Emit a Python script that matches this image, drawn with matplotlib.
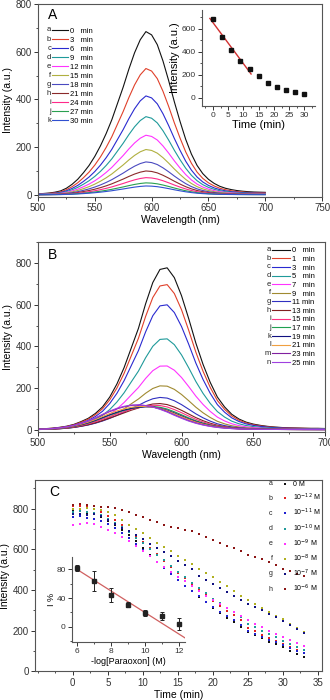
import numpy as np
import matplotlib
matplotlib.use("Agg")
import matplotlib.pyplot as plt
from matplotlib.ticker import AutoMinorLocator

plt.rcParams['font.family'] = ['Liberation Sans', 'DejaVu Sans']

# ---------------- data ----------------
wl = np.arange(500, 705, 5)

profile_a = [0.006, 0.008, 0.011, 0.016, 0.024, 0.04, 0.064, 0.095, 0.135, 0.18,
             0.235, 0.3, 0.375, 0.46, 0.56, 0.66, 0.77, 0.87, 0.95, 1.0,
             0.98, 0.92, 0.82, 0.7, 0.57, 0.45, 0.34, 0.25, 0.18, 0.13,
             0.095, 0.07, 0.052, 0.04, 0.032, 0.026, 0.022, 0.019, 0.017, 0.016, 0.015]
peaks_a = [685, 530, 415, 328, 250, 190, 138, 100, 72, 50, 37]
letters_a = list("abcdefghijk")
labels_a = ["0   min", "3   min", "6   min", "9   min", "12 min", "15 min",
            "18 min", "21 min", "24 min", "27 min", "30 min"]
colors_a = ["#111111", "#e0402a", "#2a2ad0", "#1f9a9a", "#ff33ff", "#b0b040",
            "#4a4ac0", "#8b2a2a", "#ff2a8a", "#2aa050", "#3050d0"]

inset_a_t = [0, 3, 6, 9, 12, 15, 18, 21, 24, 27, 30]
inset_a_i = [685, 525, 415, 320, 250, 185, 130, 95, 70, 50, 35]

# panel B: narrow (early) and broad (late) profiles, with amplitudes per curve
narrow_b = [0.005, 0.007, 0.01, 0.015, 0.022, 0.033, 0.05, 0.07, 0.1, 0.14,
            0.2, 0.28, 0.38, 0.5, 0.62, 0.77, 0.9, 0.98, 0.99, 0.93,
            0.82, 0.68, 0.53, 0.4, 0.29, 0.2, 0.14, 0.095, 0.066, 0.047,
            0.035, 0.027, 0.021, 0.017, 0.014, 0.012, 0.011, 0.01, 0.009, 0.009, 0.008]
broad_b = [0.02, 0.03, 0.05, 0.08, 0.12, 0.18, 0.26, 0.36, 0.48, 0.62,
           0.75, 0.86, 0.94, 0.99, 1.0, 0.97, 0.91, 0.82, 0.71, 0.58,
           0.46, 0.35, 0.26, 0.19, 0.135, 0.095, 0.067, 0.048, 0.035, 0.027,
           0.022, 0.019, 0.017, 0.015, 0.014, 0.013, 0.012, 0.011, 0.011, 0.01, 0.01]
amp_narrow_b = [785, 700, 600, 430, 295, 190, 125, 85, 62, 42, 32, 22, 6, 0]
amp_broad_b = [0, 5, 8, 15, 20, 30, 40, 52, 68, 82, 88, 98, 115, 120]
letters_b = list("abcdefghijklmn")
labels_b = ["0   min", "1   min", "3   min", "5   min", "7   min", "9   min", "11 min",
            "13 min", "15 min", "17 min", "19 min", "21 min", "23 min", "25 min"]
colors_b = ["#111111", "#e0402a", "#2a2ad0", "#1f9a9a", "#ff33ff", "#a08a30", "#3030c0",
            "#802020", "#ff3080", "#20a050", "#101080", "#f0a040", "#8020a0", "#a040e0"]

# panel C: intensity vs time for paraoxon concentrations
time_c = np.arange(0, 34, 1)
series_c = {
    "a": [790, 788, 780, 772, 758, 740, 718, 695, 668, 640, 605, 572, 540, 508, 478, 448,
          420, 393, 366, 340, 313, 288, 264, 242, 220, 195, 178, 162, 146, 132, 118, 100, 85, 70],
    "b": [812, 815, 810, 800, 785, 765, 742, 718, 692, 665, 635, 605, 575, 545, 515, 485,
          458, 430, 402, 375, 345, 320, 298, 275, 252, 215, 198, 180, 163, 148, 132, 118, 105, 92],
    "c": [760, 762, 755, 748, 740, 725, 705, 682, 655, 628, 598, 568, 538, 508, 478, 448,
          420, 393, 368, 342, 315, 292, 270, 250, 228, 200, 185, 170, 155, 142, 128, 115, 102, 88],
    "d": [785, 788, 785, 780, 768, 750, 730, 708, 684, 658, 630, 602, 574, 546, 518, 490,
          462, 436, 410, 385, 358, 335, 312, 290, 268, 235, 218, 200, 183, 167, 150, 135, 120, 106],
    "e": [720, 725, 728, 725, 712, 695, 680, 662, 640, 615, 590, 565, 540, 515, 490, 465,
          442, 420, 396, 372, 350, 330, 310, 290, 270, 252, 235, 218, 200, 185, 168, 152, 138, 125],
    "f": [800, 800, 802, 800, 795, 785, 770, 745, 720, 700, 678, 655, 632, 612, 590, 568,
          548, 528, 505, 485, 462, 440, 418, 396, 372, 350, 330, 310, 290, 272, 255, 235, 215, 195],
    "g": [775, 775, 770, 775, 765, 745, 725, 705, 690, 670, 650, 628, 605, 585, 565, 545,
          525, 505, 470, 450, 430, 410, 390, 370, 350, 330, 315, 300, 282, 265, 245, 228, 210, 190],
    "h": [820, 822, 818, 815, 810, 808, 805, 795, 785, 770, 758, 745, 735, 722, 712, 705,
          697, 688, 675, 662, 645, 632, 618, 605, 590, 573, 562, 550, 537, 522, 505, 492, 480, 470],
}
labels_c = ["0 M", "10$^{-12}$ M", "10$^{-11}$ M", "10$^{-10}$ M", "10$^{-9}$ M",
            "10$^{-8}$ M", "10$^{-7}$ M", "10$^{-6}$ M"]
colors_c = ["#111111", "#e02020", "#2020d0", "#1f9a9a", "#ff33ff", "#b0b020", "#101080", "#8b1515"]

inset_c_x = [6, 7, 8, 9, 10, 11, 12]
inset_c_y = [82, 64, 44, 31, 19, 15, 4]
inset_c_err = [4, 14, 10, 4, 4, 5, 8]
fit_c_slope = -15.0
fit_c_at6 = 80.0

# ---------------- figure ----------------
fig = plt.figure(figsize=(3.3, 7.0), dpi=100)
SPINE = "#555555"


def style(ax, fs=7, box=True):
    for s in ax.spines.values():
        s.set_color(SPINE)
        s.set_linewidth(0.8)
    if not box:
        ax.spines['top'].set_visible(False)
        ax.spines['right'].set_visible(False)
    ax.tick_params(which='both', direction='out', top=False, right=False,
                   colors="#333333", labelsize=fs, pad=1.5)
    ax.tick_params(which='major', length=3, width=0.7)
    ax.tick_params(which='minor', length=1.7, width=0.6)
    ax.xaxis.set_minor_locator(AutoMinorLocator(2))
    ax.yaxis.set_minor_locator(AutoMinorLocator(2))


def letter_legend(ax, leg, letters, gap, fs):
    fig.canvas.draw()
    r = fig.canvas.get_renderer()
    for ln, let in zip(leg.get_lines(), letters):
        bb = ln.get_window_extent(r)
        xf, yf = fig.transFigure.inverted().transform((bb.x0 - gap, (bb.y0 + bb.y1) / 2))
        fig.text(xf, yf, let, fontsize=fs, ha='right', va='center', color="#222222")


# ---- panel A ----
axA = fig.add_axes([0.115, 0.719, 0.861, 0.275])
prof = np.array(profile_a)
for pk, col, lab in zip(peaks_a, colors_a, labels_a):
    axA.plot(wl, pk * prof, color=col, lw=0.8, label=lab)
axA.set_xlim(500, 750)
axA.set_ylim(-8, 800)
axA.set_xticks([500, 550, 600, 650, 700, 750])
axA.set_yticks([0, 200, 400, 600, 800])
style(axA)
axA.set_xlabel("Wavelength (nm)", fontsize=7.5, labelpad=1.5)
axA.set_ylabel("Intensity (a.u.)", fontsize=7.5, labelpad=2)
axA.text(0.035, 0.945, "A", transform=axA.transAxes, fontsize=10, ha='left', va='center')
legA = axA.legend(loc='upper left', bbox_to_anchor=(0.05, 0.88), frameon=False,
                  fontsize=5.5, handlelength=2.1, handletextpad=0.3, labelspacing=0.22,
                  borderpad=0, borderaxespad=0)

# inset A
axAi = fig.add_axes([0.612, 0.849, 0.342, 0.137])
axAi.set_facecolor("none")
coef = np.polyfit(inset_a_t[:5], inset_a_i[:5], 1)
xfit = np.array([-1, 12.5])
axAi.plot(xfit, np.polyval(coef, xfit), color="#d03030", lw=1.0)
axAi.plot(inset_a_t, inset_a_i, 's', color="#111111", ms=2.2)
axAi.set_xlim(-3.6, 33.4)
axAi.set_ylim(-70, 765)
axAi.set_xticks([0, 5, 10, 15, 20, 25, 30])
axAi.set_yticks([0, 200, 400, 600])
style(axAi, fs=6, box=False)
axAi.set_xlabel("Time (min)", fontsize=8, labelpad=1)
axAi.set_ylabel("Intensity (a.u.)", fontsize=8, labelpad=1)

# ---- panel B ----
axB = fig.add_axes([0.115, 0.383, 0.870, 0.271])
nb = np.array(narrow_b)
bb_ = np.array(broad_b)
for an, ab, col, lab in zip(amp_narrow_b, amp_broad_b, colors_b, labels_b):
    axB.plot(wl, an * nb + ab * bb_, color=col, lw=0.8, label=lab)
axB.set_xlim(500, 700)
axB.set_ylim(-10, 900)
axB.set_xticks([500, 550, 600, 650, 700])
axB.set_yticks([0, 200, 400, 600, 800])
style(axB)
axB.set_xlabel("Wavelength (nm)", fontsize=7.5, labelpad=1.5)
axB.set_ylabel("Intensity (a.u.)", fontsize=7.5, labelpad=2)
axB.text(0.035, 0.93, "B", transform=axB.transAxes, fontsize=10, ha='left', va='center')
legB = axB.legend(loc='upper left', bbox_to_anchor=(0.815, 0.975), frameon=False,
                  fontsize=5.5, handlelength=2.3, handletextpad=0.3, labelspacing=0.17,
                  borderpad=0, borderaxespad=0)

# ---- panel C ----
axC = fig.add_axes([0.106, 0.041, 0.870, 0.273])
for key, col, lab in zip(series_c, colors_c, labels_c):
    axC.plot(time_c, series_c[key], 's', color=col, ms=1.9, mew=0, label=lab)
axC.set_xlim(-5.4, 35.6)
axC.set_ylim(0, 940)
axC.set_xticks([0, 5, 10, 15, 20, 25, 30, 35])
axC.set_yticks([0, 200, 400, 600, 800])
style(axC)
axC.set_xlabel("Time (min)", fontsize=7.5, labelpad=1.5)
axC.set_ylabel("Intensity (a.u.)", fontsize=7.5, labelpad=2)
axC.text(0.05, 0.937, "C", transform=axC.transAxes, fontsize=10, ha='left', va='center')
legC = axC.legend(loc='upper left', bbox_to_anchor=(0.86, 0.995), frameon=False,
                  fontsize=5, handlelength=1.0, handletextpad=0.6, labelspacing=0.55,
                  borderpad=0, borderaxespad=0, numpoints=1, markerscale=1.0)

# inset C (transparent, the kinetics dots show through)
axCi = fig.add_axes([0.218, 0.083, 0.342, 0.121])
axCi.set_facecolor("none")
xl = np.array([6.0, 12.4])
axCi.plot(xl, fit_c_at6 + fit_c_slope * (xl - 6), color="#d06060", lw=0.9)
axCi.errorbar(inset_c_x, inset_c_y, yerr=inset_c_err, fmt='s', color="#222222",
              ms=2.4, elinewidth=0.7, capsize=1.5, capthick=0.7)
axCi.set_xlim(5.7, 12.35)
axCi.set_ylim(-21, 97)
axCi.set_xticks([6, 8, 10, 12])
axCi.set_yticks([0, 40, 80])
style(axCi, fs=6, box=False)
axCi.set_xlabel("-log[Paraoxon] (M)", fontsize=6.5, labelpad=1)
axCi.set_ylabel("I %", fontsize=6.5, labelpad=0)

letter_legend(axA, legA, letters_a, 1, 5.5)
letter_legend(axB, legB, letters_b, 1, 5.5)
letter_legend(axC, legC, list("abcdefgh"), 8, 5)

fig.savefig("out.png", dpi=100)
